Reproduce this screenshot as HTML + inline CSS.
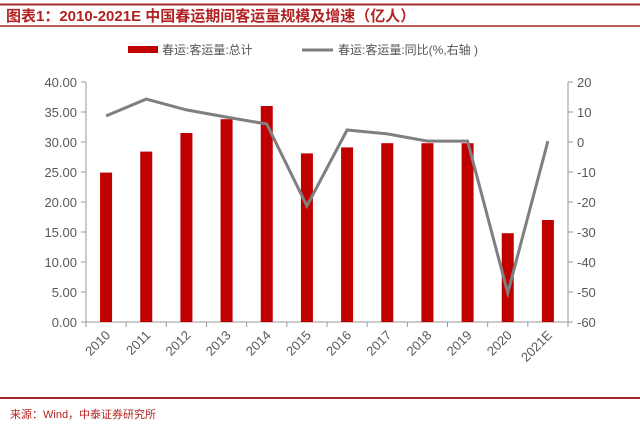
<!DOCTYPE html>
<html><head><meta charset="utf-8">
<style>
body{margin:0;background:#fff;width:640px;height:428px;overflow:hidden;font-family:"Liberation Sans","Noto Sans CJK SC",sans-serif;}
svg text{font-family:"Liberation Sans","Noto Sans CJK SC",sans-serif;}
</style></head>
<body>
<svg width="640" height="428">
<line x1="0" y1="4.5" x2="640" y2="4.5" stroke="#a52a2a" stroke-width="2"/>
<text x="6" y="21" font-size="15" font-weight="bold" fill="#b22222" font-family="'Noto Serif CJK SC',serif">图表1：2010-2021E 中国春运期间客运量规模及增速（亿人）</text>
<line x1="0" y1="26" x2="640" y2="26" stroke="#a52a2a" stroke-width="1.5"/>
<g>
<rect x="128" y="46" width="30" height="7" fill="#c00000"/>
<text x="162" y="54" font-size="12" fill="#555">春运:客运量:总计</text>
<line x1="302" y1="50" x2="333" y2="50" stroke="#7f7f7f" stroke-width="3"/>
<text x="338" y="54" font-size="12" fill="#555">春运:客运量:同比(%,右轴 )</text>
</g>
<g id="plot"></g>
<line x1="0" y1="398" x2="640" y2="398" stroke="#a52a2a" stroke-width="2"/>
<text x="10" y="418" font-size="11" fill="#b22222" font-family="'Noto Serif CJK SC',serif">来源：Wind，中泰证券研究所</text>
</svg>
<script>
const categories=["2010","2011","2012","2013","2014","2015","2016","2017","2018","2019","2020","2021E"];
const volume=[24.9,28.4,31.5,33.8,36.0,28.1,29.1,29.8,29.8,29.8,14.8,17.0];
const growth=[8.7,14.3,10.7,8.3,6.0,-21.3,4.0,2.7,0.3,0.3,-50.3,0.3];
const leftTicks=["0.00","5.00","10.00","15.00","20.00","25.00","30.00","35.00","40.00"];
const rightTicks=["-60","-50","-40","-30","-20","-10","0","10","20"];
const X0=86,X1=568,Y0=322,Y1=82;
const g=document.getElementById('plot');const NS="http://www.w3.org/2000/svg";
function yL(v){return Y0-(v-0)/(40-0)*(Y0-Y1);}
function yR(v){return Y0-(v+60)/80*(Y0-Y1);}
const bw=(X1-X0)/categories.length;
function xC(i){return X0+bw*(i+0.5);}
function mk(t,a){const e=document.createElementNS(NS,t);for(const k in a)e.setAttribute(k,a[k]);g.appendChild(e);return e;}
let e;
e=mk('line',{x1:X0,y1:Y1,x2:X0,y2:Y0,stroke:'#999'});


e=mk('line',{x1:X1,y1:Y1,x2:X1,y2:Y0,stroke:'#999'});


e=mk('line',{x1:X0,y1:Y0,x2:X1,y2:Y0,stroke:'#999'});


leftTicks.forEach((t,i)=>{const y=yL(i*5);
mk('line',{x1:X0-5,y1:y,x2:X0,y2:y,stroke:'#999'});
e=mk('text',{x:X0-9,y:y+5,'font-size':13,fill:'#595959','text-anchor':'end'});e.textContent=t;

});
rightTicks.forEach((t,i)=>{const y=yR(-60+i*10);
mk('line',{x1:X1,y1:y,x2:X1+5,y2:y,stroke:'#999'});
e=mk('text',{x:X1+9,y:y+5,'font-size':13,fill:'#595959'});e.textContent=t;

});
categories.forEach((c,i)=>{
mk('line',{x1:X0+bw*i,y1:Y0,x2:X0+bw*i,y2:Y0+5,stroke:'#999'});
const yv=yL(volume[i]);
e=mk('rect',{x:xC(i)-6,y:yv,width:12,height:Y0-yv,fill:'#c00000'});


const tx=xC(i)+5,ty=Y0+14;
e=mk('text',{x:tx,y:ty,'font-size':13,fill:'#595959','text-anchor':'end',transform:`rotate(-45 ${tx} ${ty})`});e.textContent=c;

});
mk('line',{x1:X1,y1:Y0,x2:X1,y2:Y0+5,stroke:'#999'});
e=mk('polyline',{points:growth.map((v,i)=>xC(i)+','+yR(v)).join(' '),fill:'none',stroke:'#7f7f7f','stroke-width':3});


</script>
</body></html>
